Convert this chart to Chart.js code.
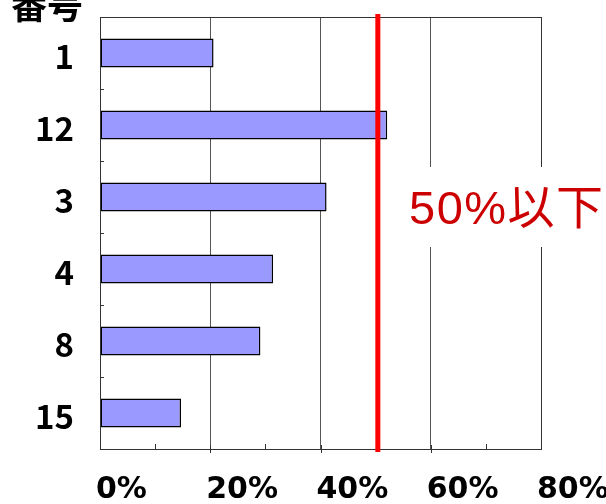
<!DOCTYPE html>
<html>
<head>
<meta charset="utf-8">
<script src="https://cdn.jsdelivr.net/npm/chart.js@4"></script>
<style>
    html, body { margin: 0; padding: 0; background: #fff; }
    canvas { display: block; }
</style>
</head>
<body>
<canvas id="chart" width="606" height="504"></canvas>
<script>
// данные
const categories = ['1', '12', '3', '4', '8', '15'];
const values = [20.6, 52.1, 41.1, 31.4, 29.1, 14.7];
const xTicks = [0, 20, 40, 60, 80];
const minorTicks = [10, 30, 50, 70];
const threshold = 50.4;
const thresholdLabel = '50%以下';
const axisTitle = '番号';

// линии, подписи и рамка поверх графика
const overlay = {
    id: 'overlay',
    afterDatasetsDraw(chart) {
        const { ctx, chartArea: a, scales: { x, y } } = chart;
        ctx.save();

        // рамка
        ctx.strokeStyle = '#333';
        ctx.lineWidth = 1;
        ctx.strokeRect(a.left + 0.5, a.top + 0.5, a.right - a.left, a.bottom - a.top);

        // мелкие деления
        ctx.beginPath();
        minorTicks.forEach(v => {
            const px = Math.round(x.getPixelForValue(v)) + 0.5;
            ctx.moveTo(px, a.bottom - 5);
            ctx.lineTo(px, a.bottom);
        });
        xTicks.slice(1, -1).forEach(v => {
            const px = Math.round(x.getPixelForValue(v)) + 0.5;
            ctx.moveTo(px, a.bottom - 4);
            ctx.lineTo(px, a.bottom + 4);
        });
        for (let i = 1; i < categories.length; i++) {
            const py = Math.round((y.getPixelForValue(i - 1) + y.getPixelForValue(i)) / 2) + 0.5;
            ctx.moveTo(a.left, py);
            ctx.lineTo(a.left + 4, py);
        }
        ctx.stroke();

        // красная линия
        const rx = x.getPixelForValue(threshold);
        ctx.strokeStyle = '#ff0000';
        ctx.lineWidth = 5;
        ctx.beginPath();
        ctx.moveTo(rx, a.top - 3);
        ctx.lineTo(rx, a.bottom + 3);
        ctx.stroke();
        ctx.restore();
    },
    afterDraw(chart) {
        const { ctx } = chart;
        ctx.save();

        // подпись порога на белом фоне
        ctx.fillStyle = '#fff';
        ctx.fillRect(400, 167, 206, 80);
        ctx.fillStyle = '#cc0000';
        ctx.font = '47px "Liberation Sans", "Noto Sans CJK JP", sans-serif';
        ctx.letterSpacing = '1.5px';
        ctx.textBaseline = 'middle';
        ctx.textAlign = 'left';
        ctx.fillText(thresholdLabel, 409, 211);
        ctx.letterSpacing = '0px';

        // заголовок оси
        ctx.fillStyle = '#000';
        ctx.font = 'bold 36px "Noto Sans CJK JP", sans-serif';
        ctx.textBaseline = 'alphabetic';
        ctx.fillText(axisTitle, 11, 19);
        ctx.restore();
    }
};

new Chart(document.getElementById('chart'), {
    type: 'bar',
    data: {
        labels: categories,
        datasets: [{
            data: values,
            backgroundColor: '#9999ff',
            borderColor: '#000',
            borderWidth: 1.5,
            borderSkipped: false,
            categoryPercentage: 1,
            barPercentage: 0.4
        }]
    },
    options: {
        indexAxis: 'y',
        responsive: false,
        animation: false,
        layout: { padding: { top: 17, right: 65, left: 0, bottom: 0 } },
        plugins: {
            legend: { display: false },
            tooltip: { enabled: false }
        },
        scales: {
            x: {
                min: 0,
                max: 80,
                afterBuildTicks: (scale) => { scale.ticks = xTicks.map(v => ({ value: v })); },
                afterFit: (scale) => {
                    scale.height = 55;
                    scale.paddingLeft = 0;
                    scale.paddingRight = 0;
                },
                grid: { color: '#555', lineWidth: 1, drawTicks: false },
                border: { color: '#333' },
                ticks: {
                    align: 'start',
                    labelOffset: -4,
                    padding: 23,
                    color: '#000',
                    maxRotation: 0,
                    font: { family: '"DejaVu Sans", sans-serif', weight: 'bold', size: 30 },
                    callback: (v) => v + '%'
                }
            },
            y: {
                afterFit: (scale) => {
                    scale.width = 100;
                    scale.paddingTop = 0;
                    scale.paddingBottom = 0;
                },
                grid: { display: false, drawTicks: false },
                border: { color: '#333' },
                ticks: {
                    padding: 26,
                    labelOffset: 3,
                    color: '#000',
                    font: { family: '"Noto Sans CJK JP", sans-serif', weight: 'bold', size: 33 }
                }
            }
        }
    },
    plugins: [overlay]
});
</script>
</body>
</html>
